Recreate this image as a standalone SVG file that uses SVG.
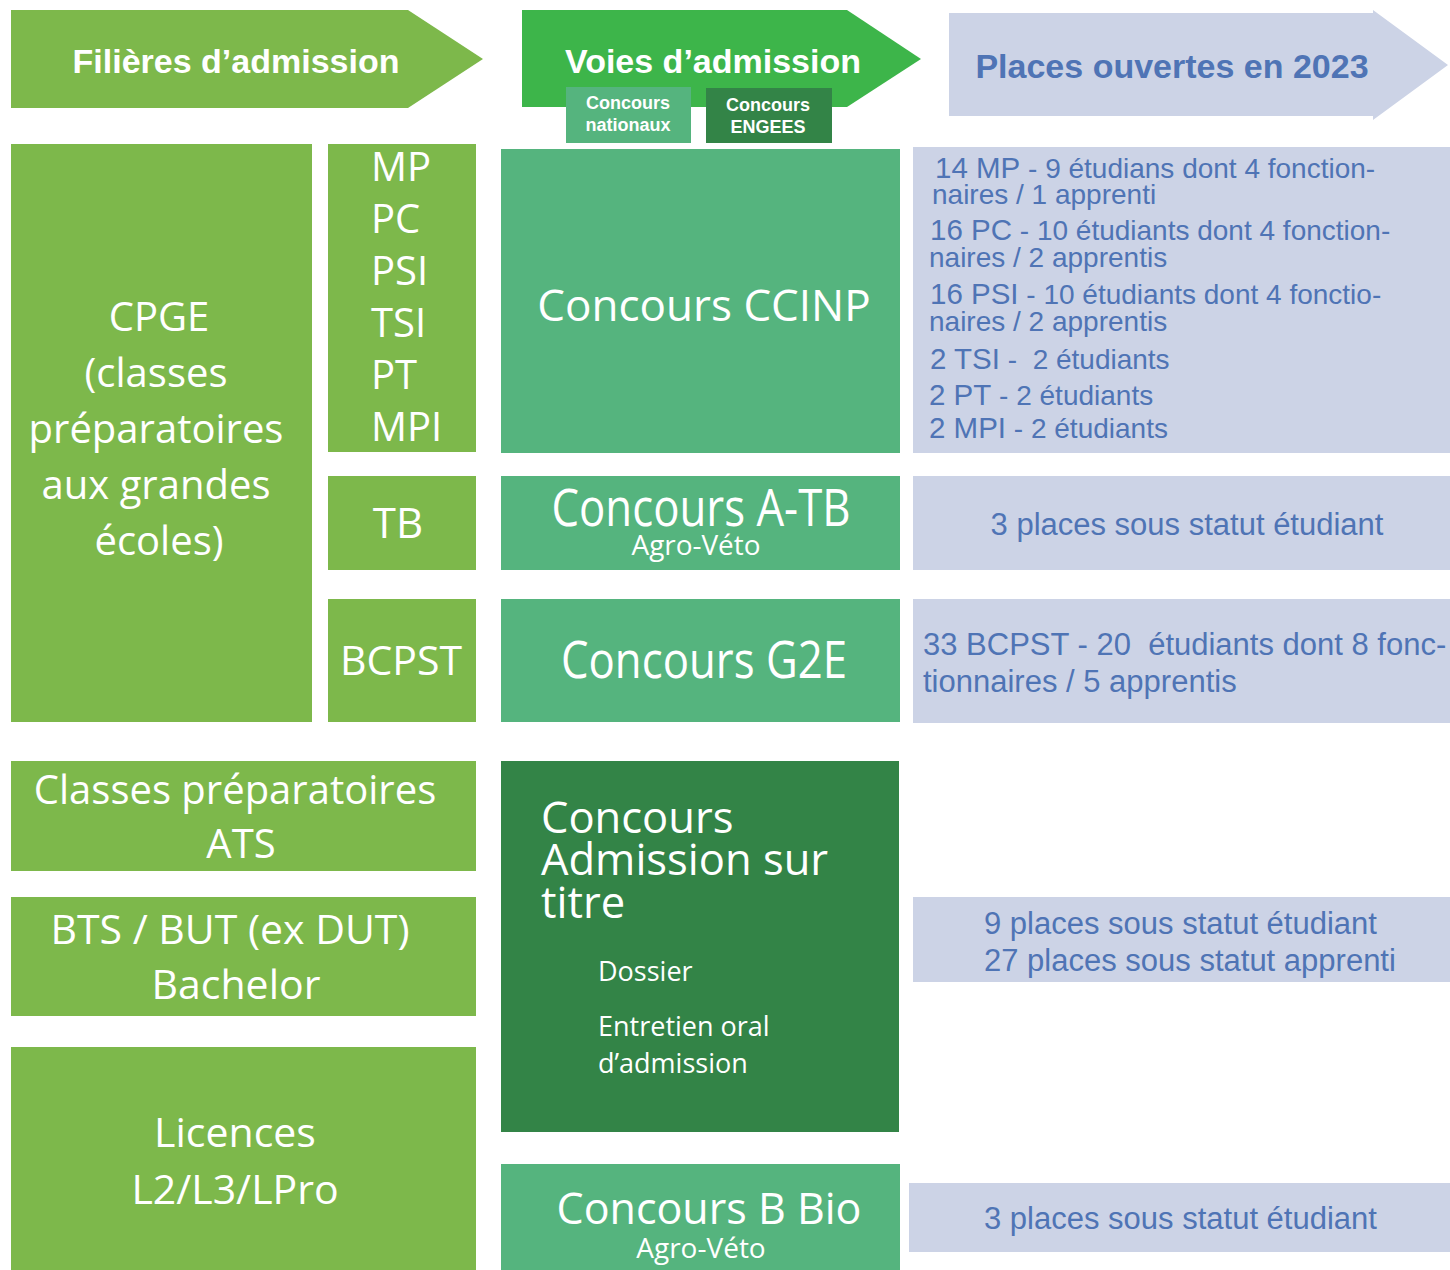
<svg xmlns="http://www.w3.org/2000/svg" width="1450" height="1270" viewBox="0 0 1450 1270">
<style>
.lg{fill:#7db84b}
.mg{fill:#55b47e}
.dg{fill:#338447}
.bg{fill:#3db54a}
.lv{fill:#ccd3e6}
.w{fill:#ffffff;font-family:"Open Sans","Noto Sans","DejaVu Sans",sans-serif}
.hw{fill:#ffffff;font-family:"Liberation Sans",Arial,sans-serif;font-weight:bold}
.hb{fill:#4f74b5;font-family:"Liberation Sans",Arial,sans-serif;font-weight:bold}
.b{fill:#4f74b5;font-family:"Liberation Sans",Arial,sans-serif;font-size:28px}
.b .k{font-size:29.5px}
.b31{font-size:31px}
.c{text-anchor:middle}
</style>
<rect x="0" y="0" width="1450" height="1270" fill="#ffffff"/>

<g id="header-filieres">
<polygon class="lg" points="11,10 408,10 483,59 408,108 11,108"/>
<text class="hw c" x="236" y="73" font-size="34">Filières d’admission</text>
</g>
<g id="header-voies">
<polygon class="bg" points="522,10 847,10 921,59 847,107 522,107"/>
<text class="hw c" x="713" y="73" font-size="34">Voies d’admission</text>
</g>
<g id="sub-nationaux">
<rect class="mg" x="566" y="87" width="125" height="56"/>
<text class="hw c" x="628" y="109" font-size="18">Concours</text>
<text class="hw c" x="628" y="131" font-size="18">nationaux</text>
</g>
<g id="sub-engees">
<rect class="dg" x="706" y="88" width="126" height="55"/>
<text class="hw c" x="768" y="111" font-size="18">Concours</text>
<text class="hw c" x="768" y="133" font-size="18">ENGEES</text>
</g>
<g id="header-places">
<polygon class="lv" points="949,13 1373,13 1373,10 1448,65 1373,120 1373,116 949,116"/>
<text class="hb c" x="1172" y="78" font-size="34">Places ouvertes en 2023</text>
</g>

<g id="cpge">
<rect class="lg" x="11" y="144" width="301" height="578"/>
<text class="w c" font-size="40"><tspan x="159" y="331">CPGE</tspan><tspan x="156" y="387">(classes</tspan><tspan x="156" y="443">préparatoires</tspan><tspan x="156" y="499">aux grandes</tspan><tspan x="159" y="555">écoles)</tspan></text>
</g>
<g id="filieres-mp">
<rect class="lg" x="328" y="144" width="148" height="308"/>
<text class="w" font-size="40"><tspan x="371" y="181">MP</tspan><tspan x="371" y="233">PC</tspan><tspan x="371" y="285">PSI</tspan><tspan x="371" y="337">TSI</tspan><tspan x="371" y="389">PT</tspan><tspan x="371" y="441">MPI</tspan></text>
</g>
<g id="filiere-tb">
<rect class="lg" x="328" y="476" width="148" height="94"/>
<text class="w c" x="398" y="538" font-size="42">TB</text>
</g>
<g id="filiere-bcpst">
<rect class="lg" x="328" y="599" width="148" height="123"/>
<text class="w c" x="401" y="675" font-size="41">BCPST</text>
</g>
<g id="ats">
<rect class="lg" x="11" y="761" width="465" height="110"/>
<text class="w c" x="235" y="804" font-size="40">Classes préparatoires</text>
<text class="w c" x="241" y="858" font-size="40">ATS</text>
</g>
<g id="bts">
<rect class="lg" x="11" y="897" width="465" height="119"/>
<text class="w c" x="230" y="944" font-size="41">BTS / BUT (ex DUT)</text>
<text class="w c" x="236" y="999" font-size="41">Bachelor</text>
</g>
<g id="licences">
<rect class="lg" x="11" y="1047" width="465" height="223"/>
<text class="w c" x="235" y="1147" font-size="41">Licences</text>
<text class="w c" x="235" y="1204" font-size="41">L2/L3/LPro</text>
</g>

<g id="ccinp">
<rect class="mg" x="501" y="149" width="399" height="304"/>
<text class="w c" x="704" y="321" font-size="44">Concours CCINP</text>
</g>
<g id="atb">
<rect class="mg" x="501" y="476" width="399" height="94"/>
<text class="w c" x="701" y="526" font-size="51" textLength="299" lengthAdjust="spacingAndGlyphs">Concours A-TB</text>
<text class="w c" x="696" y="555" font-size="27" textLength="129" lengthAdjust="spacingAndGlyphs">Agro-Véto</text>
</g>
<g id="g2e">
<rect class="mg" x="501" y="599" width="399" height="123"/>
<text class="w c" x="704" y="678" font-size="52" textLength="286" lengthAdjust="spacingAndGlyphs">Concours G2E</text>
</g>
<g id="ast">
<rect class="dg" x="501" y="761" width="398" height="371"/>
<text class="w" font-size="43.5"><tspan x="541" y="833">Concours</tspan><tspan x="541" y="875">Admission sur</tspan><tspan x="541" y="918">titre</tspan></text>
<text class="w" font-size="27"><tspan x="598" y="981">Dossier</tspan><tspan x="598" y="1036">Entretien oral</tspan><tspan x="598" y="1073">d’admission</tspan></text>
</g>
<g id="bbio">
<rect class="mg" x="501" y="1164" width="399" height="106"/>
<text class="w c" x="709" y="1224" font-size="43">Concours B Bio</text>
<text class="w c" x="701" y="1258" font-size="28">Agro-Véto</text>
</g>

<g id="places-ccinp">
<rect class="lv" x="913" y="147" width="537" height="306"/>
<text class="b" xml:space="preserve"><tspan x="935" y="178"><tspan class="k">14 MP</tspan> - 9 étudians dont 4 fonction-</tspan><tspan x="932" y="204">naires / 1 apprenti</tspan><tspan x="930" y="240"><tspan class="k">16 PC</tspan> - 10 étudiants dont 4 fonction-</tspan><tspan x="929" y="267">naires / 2 apprentis</tspan><tspan x="930" y="304"><tspan class="k">16 PSI</tspan> - 10 étudiants dont 4 fonctio-</tspan><tspan x="929" y="331">naires / 2 apprentis</tspan><tspan x="930" y="369"><tspan class="k">2 TSI</tspan> -  2 étudiants</tspan><tspan x="929" y="405"><tspan class="k">2 PT</tspan> - 2 étudiants</tspan><tspan x="929" y="438"><tspan class="k">2 MPI</tspan> - 2 étudiants</tspan></text>
</g>
<g id="places-atb">
<rect class="lv" x="913" y="476" width="537" height="94"/>
<text class="b b31 c" x="1187" y="535">3 places sous statut étudiant</text>
</g>
<g id="places-g2e">
<rect class="lv" x="913" y="599" width="537" height="124"/>
<text class="b b31" xml:space="preserve"><tspan x="923" y="655">33 BCPST - 20  étudiants dont 8 fonc-</tspan><tspan x="923" y="692">tionnaires / 5 apprentis</tspan></text>
</g>
<g id="places-ast">
<rect class="lv" x="913" y="897" width="537" height="85"/>
<text class="b b31"><tspan x="984" y="934">9 places sous statut étudiant</tspan><tspan x="984" y="971">27 places sous statut apprenti</tspan></text>
</g>
<g id="places-bbio">
<rect class="lv" x="909" y="1183" width="541" height="69"/>
<text class="b b31" x="984" y="1229">3 places sous statut étudiant</text>
</g>

<g id="connectors"/>
</svg>
